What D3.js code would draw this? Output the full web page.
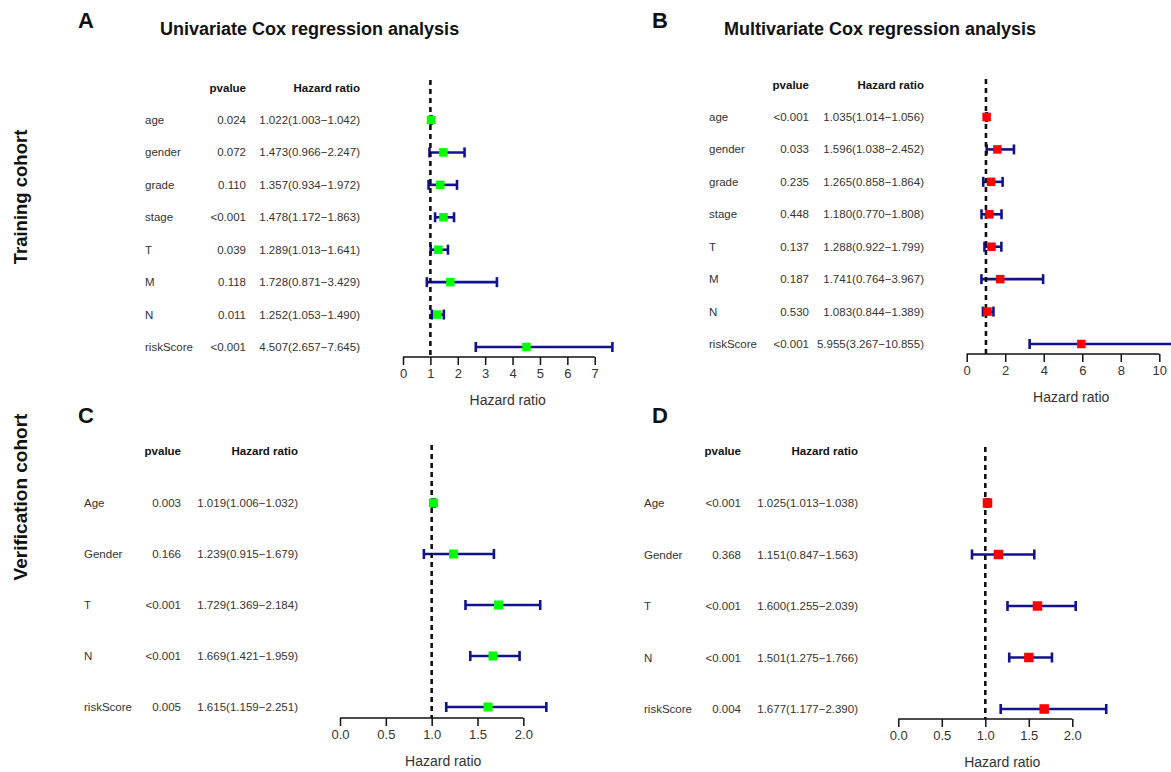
<!DOCTYPE html>
<html>
<head>
<meta charset="utf-8">
<script src="https://cdn.jsdelivr.net/npm/d3@7"></script>
<style>
  html, body { margin: 0; padding: 0; background: #fff; }
  svg { display: block; font-family: "Liberation Sans", Arial, Helvetica, sans-serif; }
</style>
</head>
<body>
<svg id="chart" width="1171" height="772"></svg>
<script>
// ---------------- DATA ----------------
const trainVars = ["age", "gender", "grade", "stage", "T", "M", "N", "riskScore"];
const uniP    = ["0.024", "0.072", "0.110", "<0.001", "0.039", "0.118", "0.011", "<0.001"];
const uniHR   = [1.022, 1.473, 1.357, 1.478, 1.289, 1.728, 1.252, 4.507];
const uniLow  = [1.003, 0.966, 0.934, 1.172, 1.013, 0.871, 1.053, 2.657];
const uniHigh = [1.042, 2.247, 1.972, 1.863, 1.641, 3.429, 1.490, 7.645];

const multiP    = ["<0.001", "0.033", "0.235", "0.448", "0.137", "0.187", "0.530", "<0.001"];
const multiHR   = [1.035, 1.596, 1.265, 1.180, 1.288, 1.741, 1.083, 5.955];
const multiLow  = [1.014, 1.038, 0.858, 0.770, 0.922, 0.764, 0.844, 3.267];
const multiHigh = [1.056, 2.452, 1.864, 1.808, 1.799, 3.967, 1.389, 10.855];

const verVars = ["Age", "Gender", "T", "N", "riskScore"];
const verUniP    = ["0.003", "0.166", "<0.001", "<0.001", "0.005"];
const verUniHR   = [1.019, 1.239, 1.729, 1.669, 1.615];
const verUniLow  = [1.006, 0.915, 1.369, 1.421, 1.159];
const verUniHigh = [1.032, 1.679, 2.184, 1.959, 2.251];

const verMultiP    = ["<0.001", "0.368", "<0.001", "<0.001", "0.004"];
const verMultiHR   = [1.025, 1.151, 1.600, 1.501, 1.677];
const verMultiLow  = [1.013, 0.847, 1.255, 1.275, 1.177];
const verMultiHigh = [1.038, 1.563, 2.039, 1.766, 2.390];

const ticksA = [0, 1, 2, 3, 4, 5, 6, 7];
const ticksB = [0, 2, 4, 6, 8, 10];
const ticksCD = [0, 0.5, 1, 1.5, 2];

const panelLetters = ["A", "B", "C", "D"];
const panelTitles = ["Univariate Cox regression analysis", "Multivariate Cox regression analysis"];
const cohortLabels = ["Training cohort", "Verification cohort"];

// ---------------- LAYOUT ----------------
const svg = d3.select("#chart");
const ciColor = "#12128c";
const txtColor = "#333";

const panels = [
  { letter: "A", vars: trainVars, p: uniP, hr: uniHR, lo: uniLow, hi: uniHigh, ticks: ticksA, fmt: d3.format("d"),
    x0: 403, unit: 27.39, yTop: 120, yBot: 347, axisY: 357, dashTop: 80,
    labelX: 145, pRight: 246, hrRight: 360, headY: 88, color: "#00ff00", box: 8.5,
    letterX: 78, letterY: 28, title: panelTitles[0], titleX: 160, titleY: 35 },
  { letter: "B", vars: trainVars, p: multiP, hr: multiHR, lo: multiLow, hi: multiHigh, ticks: ticksB, fmt: d3.format("d"),
    x0: 966.7, unit: 19.26, yTop: 117, yBot: 344, axisY: 354, dashTop: 79,
    labelX: 709, pRight: 809, hrRight: 924, headY: 85, color: "#ff0000", box: 8.5,
    letterX: 652, letterY: 28, title: panelTitles[1], titleX: 724, titleY: 35 },
  { letter: "C", vars: verVars, p: verUniP, hr: verUniHR, lo: verUniLow, hi: verUniHigh, ticks: ticksCD, fmt: d3.format(".1f"),
    x0: 340, unit: 91.67, yTop: 503, yBot: 707, axisY: 718, dashTop: 445,
    labelX: 84, pRight: 181, hrRight: 298, headY: 451, color: "#00ff00", box: 9,
    letterX: 78, letterY: 423 },
  { letter: "D", vars: verVars, p: verMultiP, hr: verMultiHR, lo: verMultiLow, hi: verMultiHigh, ticks: ticksCD, fmt: d3.format(".1f"),
    x0: 898.3, unit: 87, yTop: 503, yBot: 709, axisY: 719, dashTop: 447,
    labelX: 644, pRight: 741, hrRight: 858, headY: 451, color: "#ff0000", box: 9.5,
    letterX: 652, letterY: 423 }
];

const fmt3 = d3.format(".3f");

panels.forEach(P => {
  const g = svg.append("g");
  const xMax = d3.max(P.hi);
  const x = d3.scaleLinear().domain([0, xMax]).range([P.x0, P.x0 + xMax * P.unit]);
  const y = d3.scalePoint().domain(P.vars).range([P.yTop, P.yBot]);
  const rows = P.vars.map((v, i) => ({ v, p: P.p[i], hr: P.hr[i], lo: P.lo[i], hi: P.hi[i] }));

  // panel letter + title
  g.append("text").attr("x", P.letterX).attr("y", P.letterY)
    .attr("font-size", 22).attr("font-weight", "bold").attr("fill", "#111").text(P.letter);
  if (P.title) {
    g.append("text").attr("x", P.titleX).attr("y", P.titleY)
      .attr("font-size", 18).attr("font-weight", "bold").attr("fill", "#111").text(P.title);
  }

  // headers
  g.append("text").attr("x", P.pRight).attr("y", P.headY).attr("dy", "0.35em")
    .attr("text-anchor", "end").attr("font-size", 11.5).attr("font-weight", "bold").attr("fill", "#111").text("pvalue");
  g.append("text").attr("x", P.hrRight).attr("y", P.headY).attr("dy", "0.35em")
    .attr("text-anchor", "end").attr("font-size", 11.5).attr("font-weight", "bold").attr("fill", "#111").text("Hazard ratio");

  // table text
  const t = g.append("g").attr("font-size", 11.5).attr("fill", txtColor);
  t.selectAll(".lab").data(rows).join("text").attr("class", "lab")
    .attr("x", P.labelX).attr("y", d => y(d.v)).attr("dy", "0.35em").text(d => d.v);
  t.selectAll(".pv").data(rows).join("text").attr("class", "pv")
    .attr("x", P.pRight).attr("y", d => y(d.v)).attr("dy", "0.35em").attr("text-anchor", "end").text(d => d.p);
  t.selectAll(".hrt").data(rows).join("text").attr("class", "hrt")
    .attr("x", P.hrRight).attr("y", d => y(d.v)).attr("dy", "0.35em").attr("text-anchor", "end")
    .text(d => `${fmt3(d.hr)}(${fmt3(d.lo)}\u2212${fmt3(d.hi)})`);

  // confidence intervals
  const ci = g.append("g").attr("stroke", ciColor).attr("stroke-width", 2.6).attr("fill", "none");
  ci.selectAll(".ci").data(rows).join("line").attr("class", "ci")
    .attr("x1", d => x(d.lo)).attr("x2", d => x(d.hi)).attr("y1", d => y(d.v)).attr("y2", d => y(d.v));
  ci.selectAll(".capL").data(rows).join("line").attr("class", "capL")
    .attr("x1", d => x(d.lo)).attr("x2", d => x(d.lo)).attr("y1", d => y(d.v) - 5).attr("y2", d => y(d.v) + 5);
  ci.selectAll(".capR").data(rows).join("line").attr("class", "capR")
    .attr("x1", d => x(d.hi)).attr("x2", d => x(d.hi)).attr("y1", d => y(d.v) - 5).attr("y2", d => y(d.v) + 5);

  // reference line at HR = 1
  g.append("line").attr("x1", x(1)).attr("x2", x(1)).attr("y1", P.dashTop).attr("y2", P.axisY)
    .attr("stroke", "#111").attr("stroke-width", 2.6).attr("stroke-dasharray", "5,4");

  // boxes
  g.selectAll(".box").data(rows).join("rect").attr("class", "box")
    .attr("x", d => x(d.hr) - P.box / 2).attr("y", d => y(d.v) - P.box / 2)
    .attr("width", P.box).attr("height", P.box).attr("fill", P.color);

  // x axis
  const ax = g.append("g").attr("transform", `translate(0,${P.axisY})`)
    .call(d3.axisBottom(x).tickValues(P.ticks).tickFormat(P.fmt).tickSize(8).tickPadding(4).tickSizeOuter(0));
  ax.select(".domain").remove();
  ax.selectAll(".tick line").attr("stroke", "#111").attr("stroke-width", 1.5);
  ax.selectAll(".tick text").attr("font-size", 13).attr("fill", txtColor)
    .attr("font-family", "\"Liberation Sans\", Arial, sans-serif");
  ax.append("line").attr("x1", x(P.ticks[0])).attr("x2", x(P.ticks[P.ticks.length - 1]))
    .attr("y1", 0).attr("y2", 0).attr("stroke", "#111").attr("stroke-width", 1.5);

  g.append("text").attr("x", (x.range()[0] + x.range()[1]) / 2).attr("y", P.axisY + 43).attr("dy", "0.35em")
    .attr("text-anchor", "middle").attr("font-size", 14).attr("fill", txtColor).text("Hazard ratio");
});

// cohort labels
svg.append("text").attr("transform", "translate(27,197) rotate(-90)").attr("text-anchor", "middle")
  .attr("font-size", 18.5).attr("font-weight", "bold").attr("fill", "#111").text(cohortLabels[0]);
svg.append("text").attr("transform", "translate(27,497) rotate(-90)").attr("text-anchor", "middle")
  .attr("font-size", 19).attr("font-weight", "bold").attr("fill", "#111").text(cohortLabels[1]);
</script>
</body>
</html>
